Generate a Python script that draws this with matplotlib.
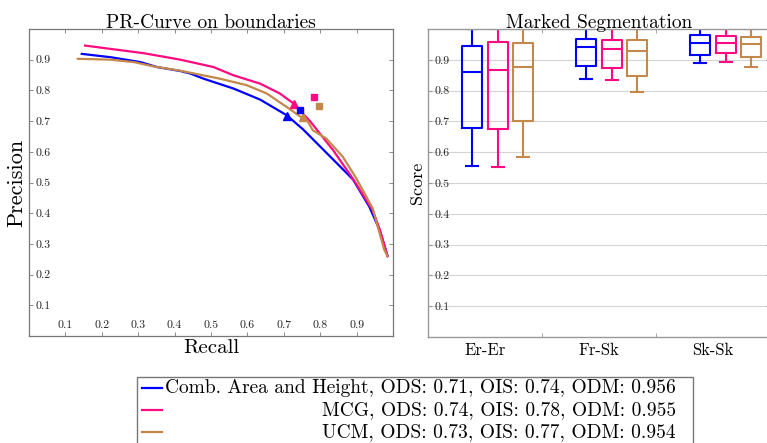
import matplotlib
matplotlib.use('Agg')
import matplotlib.pyplot as plt
from matplotlib.patches import Rectangle
from matplotlib.lines import Line2D

plt.rcParams['font.family'] = ['cmr10', 'DejaVu Serif']
plt.rcParams['axes.formatter.use_mathtext'] = True

# --- data ---
blue_recall = [0.145, 0.225, 0.307, 0.352, 0.416, 0.443, 0.480, 0.562, 0.635, 0.708, 0.753, 0.890, 0.935, 0.963, 0.985]
blue_prec = [0.919, 0.908, 0.892, 0.876, 0.863, 0.855, 0.838, 0.806, 0.770, 0.719, 0.673, 0.510, 0.421, 0.346, 0.261]
pink_recall = [0.154, 0.316, 0.416, 0.507, 0.562, 0.635, 0.689, 0.725, 0.772, 0.835, 0.890, 0.944, 0.964, 0.985]
pink_prec = [0.946, 0.921, 0.900, 0.876, 0.849, 0.822, 0.790, 0.759, 0.700, 0.606, 0.512, 0.410, 0.346, 0.260]
brown_recall = [0.134, 0.225, 0.289, 0.343, 0.416, 0.525, 0.598, 0.653, 0.708, 0.745, 0.765, 0.780, 0.817, 0.862, 0.899, 0.944, 0.976, 0.985]
brown_prec = [0.903, 0.900, 0.892, 0.878, 0.864, 0.838, 0.817, 0.790, 0.746, 0.715, 0.700, 0.670, 0.643, 0.584, 0.514, 0.416, 0.281, 0.260]

ods_points = [(0.710, 0.717), (0.727, 0.755), (0.754, 0.712)]
ois_points = [(0.745, 0.735), (0.782, 0.777), (0.796, 0.750)]

categories = ['Er-Er', 'Fr-Sk', 'Sk-Sk']
# (low whisker, q1, median, q3, high whisker) per method, per category
blue_box = [(0.554, 0.677, 0.861, 0.946, 1.0), (0.839, 0.880, 0.940, 0.968, 1.0), (0.891, 0.916, 0.956, 0.979, 1.0)]
pink_box = [(0.551, 0.675, 0.867, 0.958, 1.0), (0.833, 0.873, 0.934, 0.964, 1.0), (0.894, 0.921, 0.955, 0.976, 1.0)]
brown_box = [(0.585, 0.701, 0.876, 0.954, 1.0), (0.797, 0.848, 0.928, 0.965, 1.0), (0.878, 0.909, 0.952, 0.974, 1.0)]

labels = ['Comb. Area and Height, ODS: 0.71, OIS: 0.74, ODM: 0.956',
          'MCG, ODS: 0.74, OIS: 0.78, ODM: 0.955',
          'UCM, ODS: 0.73, OIS: 0.77, ODM: 0.954']
colors = ['#0000ff', '#ff0a80', '#c4884a']

ticks = [0.1, 0.2, 0.3, 0.4, 0.5, 0.6, 0.7, 0.8, 0.9]
tick_labels = ['0.1', '0.2', '0.3', '0.4', '0.5', '0.6', '0.7', '0.8', '0.9']

fig = plt.figure(figsize=(7.67, 4.43), dpi=100)
W, H = 767, 443


def px_axes(l, t, r, b):
    return fig.add_axes([l / W, 1 - b / H, (r - l) / W, (b - t) / H])


# ---------- left: PR curve ----------
ax1 = px_axes(29, 29, 393, 336)
for rec, pr, c in zip([blue_recall, pink_recall, brown_recall],
                      [blue_prec, pink_prec, brown_prec], colors):
    ax1.plot(rec, pr, color=c, lw=1.6)
for (x, y), c in zip(ods_points, colors):
    ax1.plot(x, y, marker='^', color=c, ms=5.5, ls='none')
for (x, y), c in zip(ois_points, colors):
    ax1.plot(x, y, marker='s', color=c, ms=5, ls='none')

ax1.set_xlim(0, 1)
ax1.set_ylim(0, 1)
ax1.set_xticks(ticks)
ax1.set_xticklabels(tick_labels)
ax1.set_yticks(ticks)
ax1.set_yticklabels(tick_labels)
ax1.tick_params(direction='in', length=3, width=0.6, color='#777777', labelsize=8.5,
                top=True, right=True, labelcolor='#222222')
ax1.tick_params(axis='y', pad=-4.5)
ax1.tick_params(axis='x', pad=-4)
for t in ax1.get_yticklabels():
    t.set_ha('left')
for t in ax1.get_xticklabels():
    t.set_va('bottom')
for s in ax1.spines.values():
    s.set_color('#777777')
    s.set_linewidth(0.9)
ax1.set_title('PR-Curve on boundaries', fontsize=14, pad=1)
ax1.set_xlabel('Recall', fontsize=15, labelpad=2)
ax1.set_ylabel('Precision', fontsize=16, labelpad=2)

# ---------- right: box plots ----------
ax2 = px_axes(428, 29, 770, 337)
offsets = [-0.11, 0.11, 0.33]
for boxes, off, c in zip([blue_box, pink_box, brown_box], offsets, colors):
    stats = []
    for b in boxes:
        stats.append({'whislo': b[0], 'q1': b[1], 'med': b[2], 'q3': b[3], 'whishi': b[4], 'fliers': []})
    pos = [i + 1 + off for i in range(len(categories))]
    lp = dict(color=c, linewidth=1.5)
    ax2.bxp(stats, positions=pos, widths=0.175, capwidths=0.105, showfliers=False,
            boxprops=lp, medianprops=lp, whiskerprops=lp, capprops=lp, manage_ticks=False)

ax2.set_xlim(0.5, 3.5)
ax2.set_ylim(0, 1)
ax2.set_xticks([1, 2, 3])
ax2.set_xticklabels(categories, fontsize=12)
ax2.set_xticks([1.5, 2.5], minor=True)
ax2.set_yticks(ticks)
ax2.set_yticklabels(tick_labels)
ax2.yaxis.grid(True, color='#d4d4d4', lw=0.8)
ax2.set_axisbelow(True)
ax2.tick_params(axis='x', which='major', length=0, pad=4)
ax2.tick_params(axis='x', which='minor', direction='in', length=3, color='#999999', top=True)
ax2.tick_params(axis='y', direction='in', length=3, color='#999999', right=True,
                labelsize=8.5, pad=-4.5, labelcolor='#222222')
for t in ax2.get_yticklabels():
    t.set_ha('left')
for s in ax2.spines.values():
    s.set_color('#999999')
    s.set_linewidth(1.0)
ax2.set_title('Marked Segmentation', fontsize=14, pad=1)
ax2.set_ylabel('Score', fontsize=13, labelpad=2)

# ---------- legend ----------
fig.patches.append(Rectangle((137 / W, 1 - 455 / H), (693 - 137) / W, (455 - 377) / H,
                             transform=fig.transFigure, fill=False, edgecolor='#777777', lw=1.0))
row_y = [388, 410, 432]
for lab, c, y in zip(labels, colors, row_y):
    fig.lines.append(Line2D([142 / W, 162 / W], [1 - y / H, 1 - y / H],
                            transform=fig.transFigure, color=c, lw=1.6))
    fig.text(676 / W, 1 - y / H, lab, ha='right', va='center', fontsize=14)

fig.savefig('out.png', dpi=100)
